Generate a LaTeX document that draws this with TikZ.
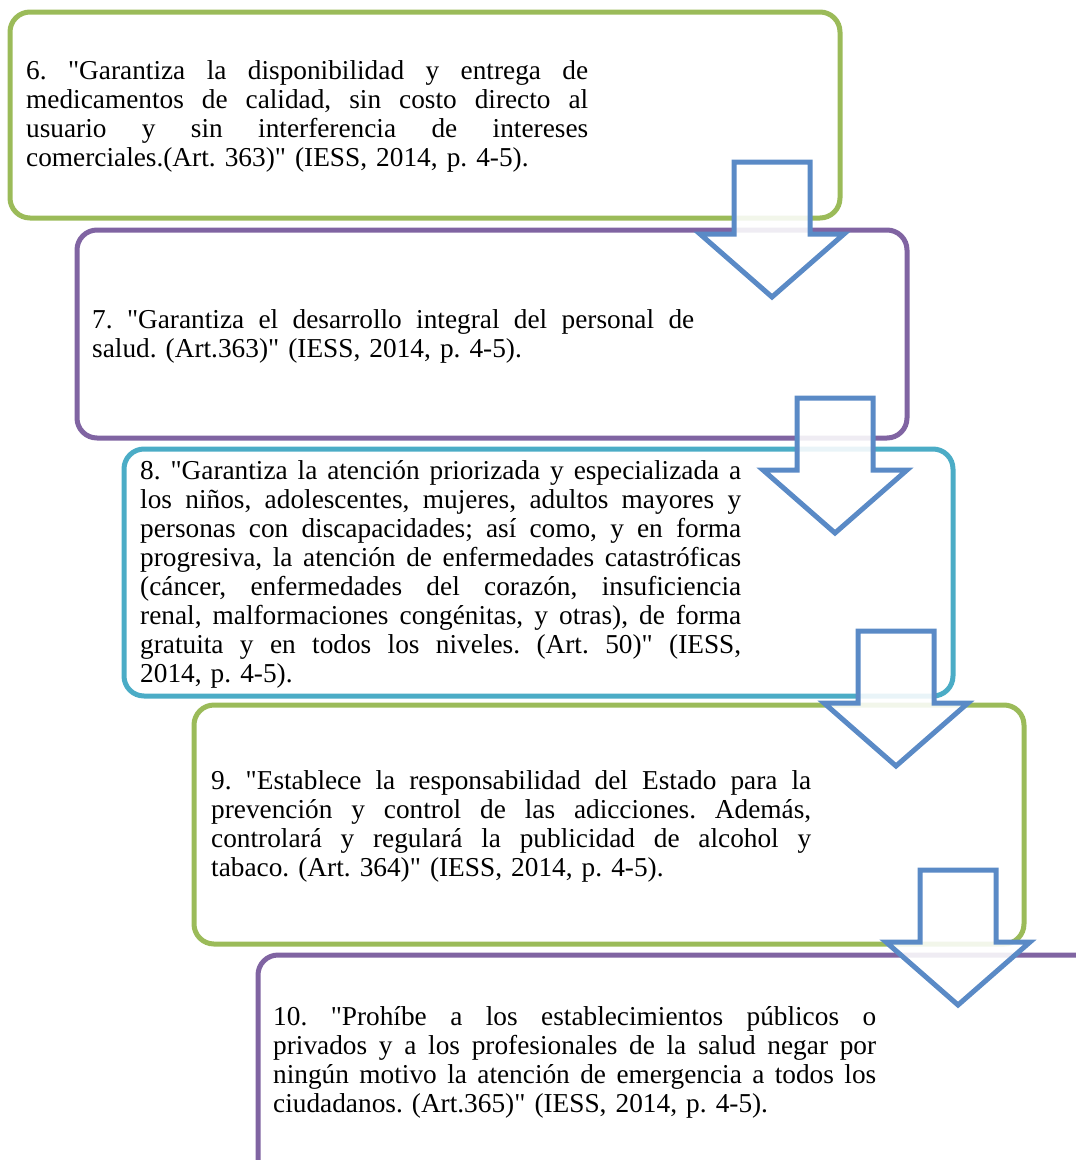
\documentclass[tikz,border=0pt]{standalone}
\usepackage{fontspec}
\setmainfont{Liberation Serif}[Ligatures=TeXOff]
\definecolor{panelgreen}{HTML}{9BBB59}
\definecolor{panelpurple}{HTML}{8064A2}
\definecolor{panelteal}{HTML}{4BACC6}
\definecolor{arrowblue}{HTML}{5A8AC6}
% one justified line of a quotation, its spaces spread to the width \qw
\newcommand\jl[1]{\leavevmode\hbox to \qw{\spaceskip=0.25em plus 1fil\relax #1}}
\tikzset{
  panel/.style={line width=5pt, rounded corners=20pt},
  quote/.style={anchor=base west, inner sep=0pt, align=left,
    font=\fontsize{27.3}{29.1}\selectfont\frenchspacing},
  arrowline/.style={draw=arrowblue, line width=5pt, line join=miter,
    fill=white, fill opacity=0.88},
  flowarrow/.pic={
    \draw[arrowline] (-38,0) -- (38,0) -- (38,72) -- (72,72) -- (0,135)
      -- (-72,72) -- (-38,72) -- cycle;
  }
}
\begin{document}
\begin{tikzpicture}[x=1pt,y=-1pt]
\useasboundingbox (0,0) rectangle (1076,1160);

% panels, one per article
\draw[panel, draw=panelgreen]  (10,12)   rectangle (840,218);
\draw[panel, draw=panelpurple] (77,230)  rectangle (907,438);
\draw[panel, draw=panelteal]   (124,449) rectangle (953,696);
\draw[panel, draw=panelgreen]  (194,705) rectangle (1024,944);
\draw[panel, draw=panelpurple] (258,955) rectangle (1095,1185);

% quotations
\node[quote, text width=640pt] (q6) at (26,79) {\def\qw{562pt}%
\jl{6. "Garantiza la disponibilidad y entrega de}\\
\jl{medicamentos de calidad, sin costo directo al}\\
\jl{usuario y sin interferencia de intereses}\\
comerciales.(Art. 363)" (IESS, 2014, p. 4-5).};

\node[quote, text width=640pt] (q7) at (92,328) {\def\qw{602pt}%
\jl{7. "Garantiza el desarrollo integral del personal de}\\
salud. (Art.363)" (IESS, 2014, p. 4-5).};

\node[quote, text width=640pt] (q8) at (140,479) {\def\qw{601pt}%
\jl{8. "Garantiza la atención priorizada y especializada a}\\
\jl{los niños, adolescentes, mujeres, adultos mayores y}\\
\jl{personas con discapacidades; así como, y en forma}\\
\jl{progresiva, la atención de enfermedades catastróficas}\\
\jl{(cáncer, enfermedades del corazón, insuficiencia}\\
\jl{renal, malformaciones congénitas, y otras), de forma}\\
\jl{gratuita y en todos los niveles. (Art. 50)" (IESS,}\\
2014, p. 4-5).};

\node[quote, text width=640pt] (q9) at (211,789) {\def\qw{600pt}%
\jl{9. "Establece la responsabilidad del Estado para la}\\
\jl{prevención y control de las adicciones. Además,}\\
\jl{controlará y regulará la publicidad de alcohol y}\\
tabaco. (Art. 364)" (IESS, 2014, p. 4-5).};

\node[quote, text width=640pt] (q10) at (273,1025) {\def\qw{603pt}%
\jl{10. "Prohíbe a los establecimientos públicos o}\\
\jl{privados y a los profesionales de la salud negar por}\\
\jl{ningún motivo la atención de emergencia a todos los}\\
ciudadanos. (Art.365)" (IESS, 2014, p. 4-5).};

% block arrows linking consecutive panels
\pic at (772,162) {flowarrow};
\pic at (835,398) {flowarrow};
\pic at (896,631) {flowarrow};
\pic at (958,870) {flowarrow};
\end{tikzpicture}
\end{document}
